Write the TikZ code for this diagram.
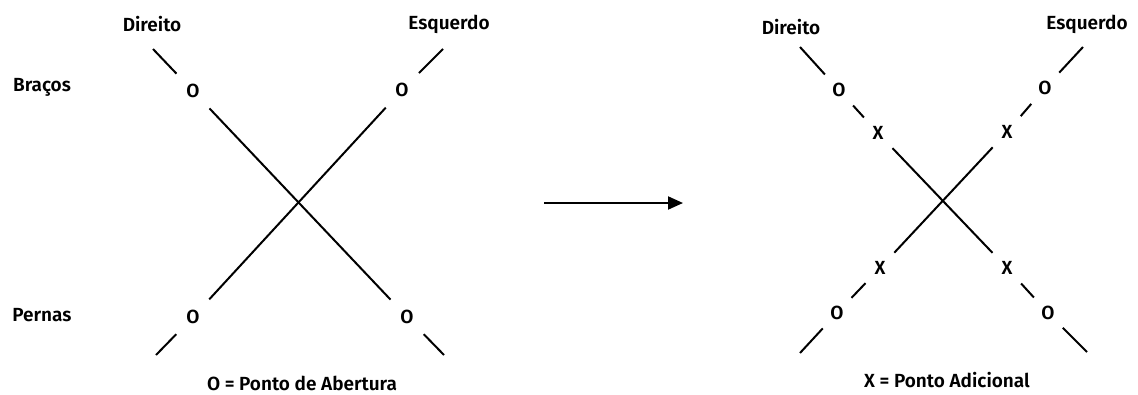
\documentclass[tikz,border=0pt]{standalone}
\usepackage{fontspec}
\setmainfont{Fira Sans}[UprightFont=* SemiBold]
\usetikzlibrary{arrows.meta}

\begin{document}
\begin{tikzpicture}[x=1pt,y=-1pt,line width=2pt]
        \tikzstyle{mark point}=[circle,inner sep=0pt,minimum size=40pt,font=\fontsize{19}{19}\selectfont]
        \tikzstyle{label text}=[inner sep=0pt,font=\fontsize{19}{19}\selectfont]
  \useasboundingbox (0,0) rectangle (1138,394);
  % left picture
  \node[label text] (L_dir) at (152,24)  {Direito};
  \node[label text] (L_esq) at (449,24)  {Esquerdo};
  \node[label text] (L_bra) at (42,87)   {Braços};
  \node[label text] (L_per) at (42,315)  {Pernas};
  \coordinate (L_a) at (153,49);
  \coordinate (L_b) at (443,49);
  \coordinate (L_c) at (156,355);
  \coordinate (L_d) at (444,355);
  \node[mark point,minimum size=46pt] (L_1) at (193,91)  {O};
  \node[mark point,minimum size=46pt] (L_2) at (402,90)  {O};
  \node[mark point,minimum size=46pt] (L_3) at (193,317) {O};
  \node[mark point,minimum size=46pt] (L_4) at (407,317) {O};
  \draw (L_a) -- (L_1) -- (L_4) -- (L_d);
  \draw (L_b) -- (L_2) -- (L_3) -- (L_c);
  \node[label text] (L_cap) at (302,383) {O = Ponto de Abertura};
  % arrow
  \coordinate (A_1) at (544,203);
  \coordinate (A_2) at (683,203);
  \draw[-{Triangle[length=15pt,width=13pt]}] (A_1) -- (A_2);
  % right picture
  \node[label text] (R_dir) at (791,27)  {Direito};
  \node[label text] (R_esq) at (1087,24) {Esquerdo};
  \coordinate (R_a) at (800,47);
  \coordinate (R_b) at (1083,47);
  \coordinate (R_c) at (800,353);
  \coordinate (R_d) at (1087,352);
  \node[mark point] (R_1) at (839,90)   {O};
  \node[mark point] (R_2) at (878,133)  {X};
  \node[mark point] (R_3) at (1007,268) {X};
  \node[mark point] (R_4) at (1048,313) {O};
  \node[mark point] (R_5) at (1045,88)  {O};
  \node[mark point] (R_6) at (1007,132) {X};
  \node[mark point] (R_7) at (880,268)  {X};
  \node[mark point] (R_8) at (837,313)  {O};
  \draw (R_a) -- (R_1) -- (R_2) -- (R_3) -- (R_4) -- (R_d);
  \draw (R_b) -- (R_5) -- (R_6) -- (R_7) -- (R_8) -- (R_c);
  \node[label text] (R_cap) at (947,380) {X = Ponto Adicional};
\end{tikzpicture}
\end{document}
